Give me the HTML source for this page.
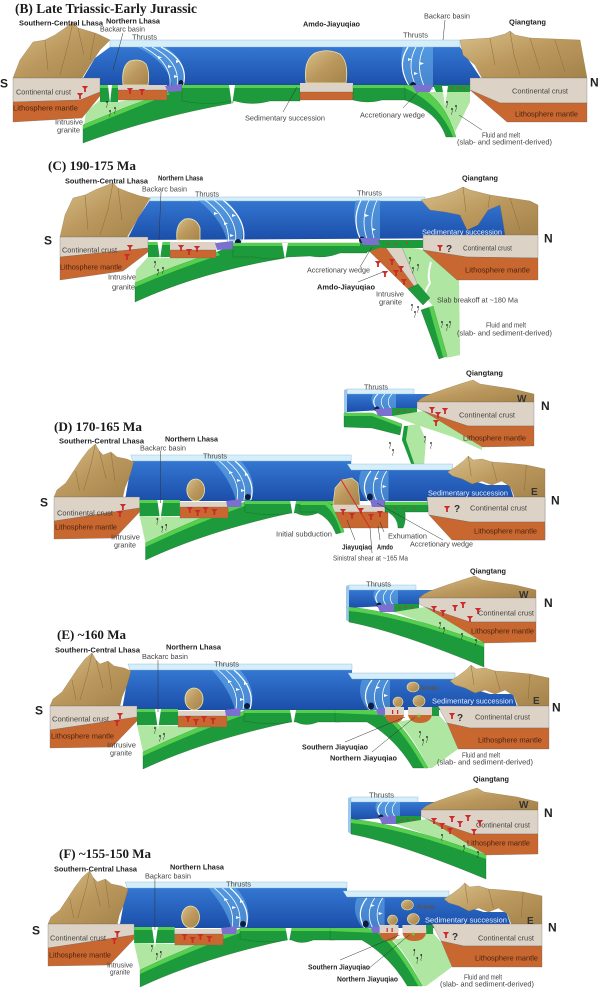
<!DOCTYPE html>
<html><head><meta charset="utf-8"><style>
html,body{margin:0;padding:0;background:#fff;}
svg{display:block;}
.t{font-family:"Liberation Serif",serif;font-weight:bold;fill:#1a1a1a;}
.b{font-family:"Liberation Sans",sans-serif;font-weight:bold;fill:#222;font-size:7px;}
.n{font-family:"Liberation Sans",sans-serif;fill:#444;font-size:7px;}
.m{font-family:"Liberation Sans",sans-serif;fill:#4a2412;font-size:7px;}
.w{font-family:"Liberation Sans",sans-serif;fill:#e6f0ff;font-size:7.5px;}
.sn{font-family:"Liberation Sans",sans-serif;font-weight:bold;fill:#222;font-size:12px;}
.q{font-family:"Liberation Sans",sans-serif;font-weight:bold;fill:#333;font-size:10px;}
.a{font-family:"Liberation Sans",sans-serif;fill:#6b4a2a;font-size:6px;}
</style></head><body>
<svg width="600" height="990" viewBox="0 0 600 990" xmlns="http://www.w3.org/2000/svg">
<defs>
<linearGradient id="bl" x1="0" y1="0" x2="0" y2="1"><stop offset="0" stop-color="#3477d2"/><stop offset="1" stop-color="#1b4ea9"/></linearGradient>
<linearGradient id="tr" x1="0" y1="0" x2="1" y2="1"><stop offset="0" stop-color="#d8c08a"/><stop offset=".5" stop-color="#bb985d"/><stop offset="1" stop-color="#a3834b"/></linearGradient>
<g id="g"><path d="M-3.2,0 L3.2,0 L0.9,2.6 L0.9,6 L-0.9,6 L-0.9,2.6 Z" fill="#cc2b2b"/></g>
<g id="f"><circle r="0.9" fill="#111"/><path d="M0,1 q1,1.2 0,2.4 q-1,1.2 0,2.4" stroke="#222" stroke-width=".45" fill="none"/></g>

<g id="M">
 <path d="M122,710 L127,682 L130,670 L352,670 L352,679 L455,679 L470,688 L490,694 L513,694 L518,710 Z" fill="url(#bl)"/>
 <path d="M128,664 L352,664 L352,670 L130,670 Z" fill="#d5eef9" stroke="#86b4d0" stroke-width=".4"/>
 <path d="M348,673 L455,673 L455,679 L352,679 Z" fill="#d5eef9" stroke="#86b4d0" stroke-width=".4"/>
 <path d="M50,706 L53,699 L62,692 L70,680 L78,668 L85,659 L92,653 L96,660 L100,664 L108,661 L114,666 L124,668 L131,671 L127,685 L122,697 L120,706 Z" fill="url(#tr)" stroke="#8a6a3a" stroke-width=".3"/>
 <path d="M92,653 L88,672 L80,700 M96,660 L103,688 M72,680 L76,700 M108,662 L112,690" stroke="#8c6c3c" stroke-width=".5" fill="none"/>
 <path d="M450,681 L458,676 L466,670 L471,665 L476,669 L485,668 L495,671 L510,672 L530,674 L549,678 L549,706 L518,706 L514,696 L505,690 L495,694 L485,690 L475,693 L465,688 L455,685 Z" fill="url(#tr)" stroke="#8a6a3a" stroke-width=".3"/>
 <path d="M471,665 L474,685 M495,671 L500,690 M530,674 L528,700" stroke="#8c6c3c" stroke-width=".5" fill="none"/>
 <path d="M212,670 L240,670 Q258,690 250,710 L235,710 Q230,690 212,670 Z" fill="#6cb4ec" opacity=".55"/>
 <path d="M218,670 Q240,688 236,709 M226,670 Q248,688 243,709" stroke="#fff" stroke-width=".8" fill="none"/>
 <path d="M234,670 Q256,689 250,709" stroke="#fff" stroke-width="1.2" fill="none"/>
 <path d="M228,680 l4,1.5 l-4,1.5 Z M236,688 l4,1.5 l-4,1.5 Z M244,682 l4,1.5 l-4,1.5 Z M240,698 l4,1.5 l-4,1.5 Z" fill="#fff"/>
 <ellipse cx="247" cy="706" rx="3" ry="3" fill="#0c1c40"/>
 <path d="M362,680 L390,680 L390,710 L368,710 Q356,695 362,680 Z" fill="#6cb4ec" opacity=".5"/>
 <path d="M372,680 Q360,695 370,710" stroke="#fff" stroke-width="1.2" fill="none"/>
 <path d="M380,680 Q370,695 378,710 M388,680 Q378,695 386,710" stroke="#fff" stroke-width=".8" fill="none"/>
 <path d="M376,686 l4,1.5 l-4,1.5 Z M384,694 l4,1.5 l-4,1.5 Z" fill="#fff"/>
 <ellipse cx="371" cy="706" rx="3" ry="3.5" fill="#0c1c40"/>
 <ellipse cx="194" cy="699" rx="9" ry="11" fill="url(#tr)" stroke="#efe6a8" stroke-width=".8"/>
 <path d="M137,725 L178,726 L244,714 L143,752 Z" fill="#aee6a2"/>
 <path d="M244,711 Q195,727 143,752 L143,769 Q205,740 295,721 L295,711 Z" fill="#1d9a3b" stroke="#145a24" stroke-width=".3"/>
 <path d="M244,711 Q195,727 143,752 L143,756 Q197,731 247,714 Z" fill="#56cf4f"/>
 <path d="M50,706 L137,706 L137,717 L50,730 Z" fill="#dcd3c6" stroke="#666" stroke-width=".3"/>
 <path d="M50,730 L137,717 L137,721 L112,747 L50,748 Z" fill="#c8672f" stroke="#666" stroke-width=".3"/>
 <path d="M137,709 L178,709 L178,725 L137,725 Z" fill="#1d9a3b"/>
 <rect x="137" y="709" width="41" height="3" fill="#56cf4f"/>
 <path d="M155,709 L158,730 L161,709 Z" fill="#fff"/>
 <path d="M178,711 L227,711 L227,716 L178,716 Z" fill="#dcd3c6"/>
 <path d="M178,716 L227,716 L227,727 L178,727 Z" fill="#c8672f" stroke="#666" stroke-width=".3"/>
 <path d="M225,710 L241,708 L240,716 L226,716 Z" fill="#7b6fcf"/>
 <path d="M244,710 L340,710 L340,722 L318,722 Q306,727 296,722 L292,722 Q270,726 244,721 Z" fill="#1d9a3b" stroke="#145a24" stroke-width=".3"/>
 <rect x="244" y="710" width="96" height="3" fill="#56cf4f"/>
 <path d="M290,710 L293,727 L296,710 Z" fill="#fff"/>
 <path d="M438,706 L549,706 L549,728 L470,728 L447,723 Z" fill="#dcd3c6" stroke="#666" stroke-width=".3"/>
 <path d="M447,723 L470,728 L549,728 L549,749 L458,749 Z" fill="#c8672f" stroke="#666" stroke-width=".3"/>
 <use href="#g" x="120" y="713"/><use href="#g" x="117" y="720"/>
 <use href="#g" x="188" y="716"/><use href="#g" x="196" y="719"/><use href="#g" x="204" y="716"/><use href="#g" x="213" y="718"/>
 <use href="#f" x="155" y="728"/><use href="#f" x="160" y="736"/><use href="#f" x="164" y="734"/>
 <path d="M158,712 L158,660" stroke="#333" stroke-width=".5"/>
</g>

<g id="R">
 <path d="M398,722 L438,714 L447,724 L458,749 L432,768 L428,768 Q414,738 398,722 Z" fill="#aee6a2"/>
 <path d="M335,710 L370,710 L385,712 Q405,725 428,768 L413,768 Q395,738 367,722 L335,722 Z" fill="#1d9a3b" stroke="#145a24" stroke-width=".3"/>
 <path d="M335,710 L370,710 L385,712 Q405,725 428,768 L424,768 Q402,729 383,715 L335,713 Z" fill="#56cf4f"/>
 <path d="M376,709 L392,708 L391,715 L378,715 Z" fill="#7b6fcf"/>
 <path d="M385,707 L404,707 L404,715 L385,715 Z" fill="#dcd3c6"/>
 <path d="M385,715 L404,715 Q402,723 394,723 Q386,723 385,715 Z" fill="#c8672f"/>
 <path d="M408,707 L432,707 L432,715 L408,715 Z" fill="#dcd3c6"/>
 <path d="M408,715 L432,715 Q430,723 420,723 Q410,723 408,715 Z" fill="#c8672f"/>
 <rect x="392" y="710" width="1.2" height="4" fill="#c22"/><rect x="397" y="710" width="1.2" height="4" fill="#c22"/>
 <circle cx="419" cy="716" r="1.5" fill="#6c3"/>
 <ellipse cx="398" cy="702" rx="5" ry="5" fill="url(#tr)" stroke="#efe6a8" stroke-width=".6"/>
 <ellipse cx="419" cy="701" rx="6" ry="5.5" fill="url(#tr)" stroke="#efe6a8" stroke-width=".6"/>
 <rect x="432" y="707" width="7" height="9" fill="#1d9a3b"/>
 <ellipse cx="413" cy="687" rx="6" ry="5" fill="url(#tr)" stroke="#efe6a8" stroke-width=".6"/>
 <use href="#f" x="420" y="732"/><use href="#f" x="423" y="740"/><use href="#f" x="427" y="737"/>
 <path d="M345,742 L405,717 M372,752 L415,717" stroke="#333" stroke-width=".5"/>
</g>

<g id="I">
 <path d="M346,586 L349,585 L349,622 L346,620 Z" fill="#9cc8ec"/>
 <path d="M349,590 L436,590 L440,598 L419,598 L419,604 L349,608 Z" fill="url(#bl)"/>
 <path d="M349,585 L416,585 L416,590 L349,590 Z" fill="#d5eef9" stroke="#86b4d0" stroke-width=".4"/>
 <path d="M430,591 L447,585 L462,580 L475,576 L482,580 L495,582 L515,585 L536,590 L536,598 L419,598 L424,594 Z" fill="url(#tr)" stroke="#8a6a3a" stroke-width=".3"/>
 <path d="M375,590 L398,590 L398,606 L380,606 Q370,598 375,590 Z" fill="#6cb4ec" opacity=".55"/>
 <path d="M380,590 Q371,598 381,607" stroke="#fff" stroke-width="1.1" fill="none"/>
 <path d="M387,590 Q379,598 388,607 M394,590 Q386,598 395,607" stroke="#fff" stroke-width=".7" fill="none"/>
 <ellipse cx="379" cy="605" rx="2.5" ry="2.5" fill="#0c1c40"/>
 <path d="M377,605 L394,604 L394,612 L380,612 Z" fill="#7b6fcf"/>
 <path d="M394,604 L419,604 L419,612 L394,612 Z" fill="#1d9a3b"/>
 <circle cx="400" cy="608" r="1" fill="#c33"/><circle cx="406" cy="607" r="1" fill="#c33"/><circle cx="412" cy="608" r="1" fill="#c33"/>
 <path d="M419,598 L536,598 L536,622 L470,622 L425,607 L419,604 Z" fill="#dcd3c6" stroke="#666" stroke-width=".3"/>
 <path d="M425,607 L470,622 L536,622 L536,642 L484,643 Z" fill="#c8672f" stroke="#666" stroke-width=".3"/>
 <path d="M394,612 L425,607 L484,643 L484,646 L455,633 L422,622 L400,614 Z" fill="#aee6a2"/>
</g>
</defs>

<!-- ================= B ================= -->
<text class="t" x="15" y="13" font-size="14" textLength="182" lengthAdjust="spacingAndGlyphs">(B) Late Triassic-Early Jurassic</text>
<path d="M82,80 L95,58 L110,47 L460,47 L470,62 L482,80 L482,87 L82,87 Z" fill="url(#bl)"/>
<path d="M110,40 L460,40 L460,47 L110,47 Z" fill="#d5eef9" stroke="#86b4d0" stroke-width=".4"/>
<path d="M13,78 L20,60 L33,42 L45,40 L55,35 L65,28 L73,22 L78,28 L85,30 L95,33 L100,35 L110,40 L100,50 L90,65 L82,78 Z" fill="url(#tr)" stroke="#8a6a3a" stroke-width=".3"/>
<path d="M73,22 L68,45 L60,75 M78,28 L84,55 M45,40 L48,70 M95,33 L90,60" stroke="#8c6c3c" stroke-width=".5" fill="none"/>
<path d="M460,40 L490,38 L505,34 L510,31 L515,35 L530,38 L580,40 L587,78 L482,78 L475,65 L463,55 Z" fill="url(#tr)" stroke="#8a6a3a" stroke-width=".3"/>
<path d="M510,31 L514,55 L520,75 M530,38 L540,70 M490,38 L495,65 M555,40 L565,72" stroke="#8c6c3c" stroke-width=".5" fill="none"/>
<path d="M137,47 L165,47 Q190,62 183,86 L172,86 Q168,62 137,47 Z" fill="#6cb4ec" opacity=".55"/>
<path d="M143,47 Q172,62 170,86 M152,47 Q181,62 177,86" stroke="#fff" stroke-width=".8" fill="none"/>
<path d="M161,47 Q190,62 183,86" stroke="#fff" stroke-width="1.2" fill="none"/>
<path d="M158,56 l4,1.5 l-4,1.5 Z M168,65 l4,1.5 l-4,1.5 Z M176,60 l4,1.5 l-4,1.5 Z M174,75 l4,1.5 l-4,1.5 Z" fill="#fff"/>
<ellipse cx="181" cy="83" rx="2.5" ry="3" fill="#0c1c40"/>
<path d="M403,47 L433,47 L433,90 L414,90 Q396,68 403,47 Z" fill="#6cb4ec" opacity=".55"/>
<path d="M408,47 Q395,67 412,90" stroke="#fff" stroke-width="1.2" fill="none"/>
<path d="M416,47 Q405,67 418,90 M424,47 Q414,67 426,90" stroke="#fff" stroke-width=".8" fill="none"/>
<path d="M408,58 l4,1.5 l-4,1.5 Z M414,72 l4,1.5 l-4,1.5 Z M420,62 l4,1.5 l-4,1.5 Z" fill="#fff"/>
<ellipse cx="413" cy="85" rx="3" ry="3" fill="#0c1c40"/>
<path d="M123,85 Q121,66 130,61 Q140,58 146,64 Q150,72 148,85 Z" fill="url(#tr)" stroke="#efe6a8" stroke-width=".8"/>
<path d="M306,83 Q303,60 315,53 Q328,48 340,54 Q349,62 346,83 Z" fill="url(#tr)" stroke="#efe6a8" stroke-width=".8"/>
<!-- B front -->
<path d="M100,100 L118,102 L167,92 L84,126 L86,112 Z" fill="#aee6a2"/>
<path d="M167,92 Q125,107 83,125 L83,143 Q150,118 233,103 L233,86 L182,86 Z" fill="#1d9a3b" stroke="#145a24" stroke-width=".3"/>
<path d="M167,92 Q125,107 83,125 L83,129 Q127,111 170,94 Z" fill="#56cf4f"/>
<path d="M13,78 L100,78 L100,92 L80,100 L13,102 Z" fill="#dcd3c6" stroke="#666" stroke-width=".3"/>
<path d="M13,102 L80,100 L100,92 L100,96 L82,118 L13,122 Z" fill="#c8672f" stroke="#666" stroke-width=".3"/>
<path d="M100,85 L118,85 L118,102 L100,102 Z" fill="#1d9a3b"/>
<rect x="100" y="85" width="18" height="3" fill="#56cf4f"/>
<path d="M108,85 L110,104 L112,85 Z" fill="#fff"/>
<path d="M118,85 L167,85 L167,90 L118,90 Z" fill="#dcd3c6"/>
<path d="M118,90 L167,90 L167,100 L118,100 Z" fill="#c8672f" stroke="#666" stroke-width=".3"/>
<path d="M165,86 L182,84 L182,91 L168,92 Z" fill="#7b6fcf"/>
<path d="M182,85 L300,85 L300,101 L270,101 Q252,106 235,101 L232,101 Q210,106 182,101 Z" fill="#1d9a3b" stroke="#145a24" stroke-width=".3"/>
<rect x="182" y="85" width="118" height="3" fill="#56cf4f"/>
<path d="M229,85 L232,106 L235,85 Z" fill="#fff"/>
<path d="M300,83 L353,83 L353,92 L300,92 Z" fill="#dcd3c6"/>
<path d="M300,92 L353,92 L353,100 L300,100 Z" fill="#c8672f" stroke="#666" stroke-width=".3"/>
<path d="M353,85 L410,85 L410,100 L382,100 Q368,104 353,100 Z" fill="#1d9a3b" stroke="#145a24" stroke-width=".3"/>
<rect x="353" y="85" width="57" height="3" fill="#56cf4f"/>
<path d="M425,92 L470,92 L470,102 L455,132 Q447,108 425,92 Z" fill="#aee6a2"/>
<path d="M405,85 L418,86 Q445,100 456,137 L446,137 Q438,112 405,100 Z" fill="#1d9a3b" stroke="#145a24" stroke-width=".3"/>
<path d="M405,85 L418,86 Q445,100 456,137 L453,137 Q440,104 405,88 Z" fill="#56cf4f"/>
<path d="M412,85 L433,85 L430,92 L416,92 Z" fill="#7b6fcf"/>
<path d="M433,85 L470,85 L470,92 L436,92 Z" fill="#1d9a3b"/>
<path d="M442,86 L445,106 L448,86 Z" fill="#fff"/>
<circle cx="452" cy="88" r="1" fill="#c33"/><circle cx="458" cy="88" r="1" fill="#c33"/><circle cx="464" cy="88" r="1" fill="#c33"/>
<path d="M470,78 L587,78 L587,103 L500,103 L470,90 Z" fill="#dcd3c6" stroke="#666" stroke-width=".3"/>
<path d="M470,90 L500,103 L587,103 L587,122 L507,122 Z" fill="#c8672f" stroke="#666" stroke-width=".3"/>
<use href="#g" x="85" y="86"/><use href="#g" x="80" y="93"/><use href="#g" x="130" y="88"/><use href="#g" x="142" y="89"/>
<use href="#f" x="107" y="102"/><use href="#f" x="110" y="111"/><use href="#f" x="115" y="108"/>
<use href="#f" x="447" y="102"/><use href="#f" x="452" y="109"/><use href="#f" x="456" y="106"/>
<path d="M123,33 L113,70 M445,20 L443,40 M283,112 L297,87 M403,108 L418,92 M482,130 L459,115" stroke="#333" stroke-width=".5" fill="none"/>
<text class="b" x="19" y="25.5" textLength="84" lengthAdjust="spacingAndGlyphs">Southern-Central Lhasa</text>
<text class="b" x="106" y="23.5" textLength="54" lengthAdjust="spacingAndGlyphs">Northern Lhasa</text>
<text class="b" x="303" y="26.5" textLength="57" lengthAdjust="spacingAndGlyphs">Amdo-Jiayuqiao</text>
<text class="b" x="509" y="24.5" textLength="37" lengthAdjust="spacingAndGlyphs">Qiangtang</text>
<text class="n" x="100" y="31.5" textLength="45" lengthAdjust="spacingAndGlyphs">Backarc basin</text>
<text class="n" x="132" y="39.5" textLength="25" lengthAdjust="spacingAndGlyphs">Thrusts</text>
<text class="n" x="424" y="18.5" textLength="46" lengthAdjust="spacingAndGlyphs">Backarc basin</text>
<text class="n" x="403" y="37.5" textLength="25" lengthAdjust="spacingAndGlyphs">Thrusts</text>
<text class="sn" x="0" y="87.5">S</text>
<text class="sn" x="590" y="86.5">N</text>
<text class="n" x="16" y="94.5" textLength="55" lengthAdjust="spacingAndGlyphs">Continental crust</text>
<text class="n" x="512" y="93.5" textLength="56" lengthAdjust="spacingAndGlyphs">Continental crust</text>
<text class="m" x="13" y="110.5" textLength="65" lengthAdjust="spacingAndGlyphs">Lithosphere mantle</text>
<text class="m" x="515" y="116.5" textLength="63" lengthAdjust="spacingAndGlyphs">Lithosphere mantle</text>
<text class="n" x="55" y="124.5" textLength="28" lengthAdjust="spacingAndGlyphs">Intrusive</text>
<text class="n" x="57" y="132.5" textLength="23" lengthAdjust="spacingAndGlyphs">granite</text>
<text class="n" x="245" y="120.5" textLength="80" lengthAdjust="spacingAndGlyphs">Sedimentary succession</text>
<text class="n" x="360" y="117.5" textLength="65" lengthAdjust="spacingAndGlyphs">Accretionary wedge</text>
<text class="n" x="482" y="137.5" textLength="38" lengthAdjust="spacingAndGlyphs">Fluid and melt</text>
<text class="n" x="457" y="144.5" textLength="95" lengthAdjust="spacingAndGlyphs">(slab- and sediment-derived)</text>

<!-- ================= C ================= -->
<text class="t" x="48" y="170" font-size="13" textLength="88" lengthAdjust="spacingAndGlyphs">(C) 190-175 Ma</text>
<path d="M127,240 L138,218 L150,200 L425,200 L440,205 L505,205 L505,238 Z" fill="url(#bl)"/>
<path d="M150,197 L425,197 L425,201 L150,201 Z" fill="#d5eef9" stroke="#86b4d0" stroke-width=".4"/>
<path d="M60,237 L65,215 L73,198 L85,195 L95,190 L105,186 L113,183 L118,188 L128,192 L140,196 L150,198 L138,218 L127,237 Z" fill="url(#tr)" stroke="#8a6a3a" stroke-width=".3"/>
<path d="M113,183 L108,210 L100,235 M118,188 L122,220 M85,195 L88,230" stroke="#8c6c3c" stroke-width=".5" fill="none"/>
<path d="M421,200 L440,196 L455,191 L463,187 L470,190 L490,195 L510,198 L530,201 L538,205 L538,235 L505,235 L503,222 L500,205 L488,210 L478,225 L467,230 L460,215 L445,212 L430,210 Z" fill="url(#tr)" stroke="#8a6a3a" stroke-width=".3"/>
<path d="M463,187 L466,212 M510,198 L520,230 M490,195 L488,208" stroke="#8c6c3c" stroke-width=".5" fill="none"/>
<path d="M198,200 L225,200 Q250,222 240,246 L228,246 Q225,222 198,200 Z" fill="#6cb4ec" opacity=".55"/>
<path d="M205,200 Q232,220 228,246 M214,200 Q240,220 235,246" stroke="#fff" stroke-width=".8" fill="none"/>
<path d="M223,200 Q250,222 242,246" stroke="#fff" stroke-width="1.2" fill="none"/>
<path d="M214,212 l4,1.5 l-4,1.5 Z M224,222 l4,1.5 l-4,1.5 Z M232,214 l4,1.5 l-4,1.5 Z M230,234 l4,1.5 l-4,1.5 Z" fill="#fff"/>
<ellipse cx="238" cy="242" rx="3" ry="3" fill="#0c1c40"/>
<path d="M356,200 L380,200 L380,244 L364,244 Q350,222 356,200 Z" fill="#6cb4ec" opacity=".5"/>
<path d="M361,200 Q350,222 363,244" stroke="#fff" stroke-width="1.2" fill="none"/>
<path d="M369,200 Q359,222 369,244 M377,200 Q367,222 376,244" stroke="#fff" stroke-width=".8" fill="none"/>
<path d="M365,214 l4,1.5 l-4,1.5 Z M372,228 l4,1.5 l-4,1.5 Z" fill="#fff"/>
<ellipse cx="362" cy="240" rx="3" ry="3.5" fill="#0c1c40"/>
<path d="M177,240 Q175,224 185,219 Q196,217 200,228 L200,240 Z" fill="url(#tr)" stroke="#efe6a8" stroke-width=".8"/>
<!-- C front -->
<path d="M148,257 L170,258 L217,253 L135,283 L136,270 Z" fill="#aee6a2"/>
<path d="M217,252 Q175,265 135,283 L135,302 Q200,272 285,258 L285,245 L233,245 Z" fill="#1d9a3b" stroke="#145a24" stroke-width=".3"/>
<path d="M217,252 Q175,265 135,283 L135,287 Q177,269 220,255 Z" fill="#56cf4f"/>
<path d="M60,237 L148,237 L148,248 L60,257 Z" fill="#dcd3c6" stroke="#666" stroke-width=".3"/>
<path d="M60,257 L148,248 L148,252 L123,271 L60,280 Z" fill="#c8672f" stroke="#666" stroke-width=".3"/>
<path d="M148,242 L170,242 L170,257 L148,257 Z" fill="#1d9a3b"/>
<rect x="148" y="242" width="22" height="3" fill="#56cf4f"/>
<path d="M157.5,242 L160,260 L162.5,242 Z" fill="#fff"/>
<path d="M170,242 L216,242 L216,250 L170,250 Z" fill="#dcd3c6"/>
<path d="M170,250 L216,250 L216,258 L170,258 Z" fill="#c8672f" stroke="#666" stroke-width=".3"/>
<path d="M215,243 L233,241 L233,249 L217,250 Z" fill="#7b6fcf"/>
<path d="M233,243 L367,243 L367,253 L340,253 Q325,259 310,256 L288,257 Q270,261 255,257 L233,257 Z" fill="#1d9a3b" stroke="#145a24" stroke-width=".3"/>
<rect x="233" y="243" width="134" height="3" fill="#56cf4f"/>
<path d="M282,243 L285,260 L288,243 Z" fill="#fff"/>
<path d="M400,245 L423,250 L459,280 L460,355 L446,358 L433,306 L428,300 L419,288 Z" fill="#aee6a2"/>
<path d="M431,262 Q427,276 430,283 Q424,292 425,298 L419,307" stroke="#fff" stroke-width="2" fill="none"/>
<path d="M399,241 L401,252 L403,241 Z" fill="#fff"/>
<path d="M368,250 L384,245 L414,286 L410,291 Z" fill="#c8672f" stroke="#666" stroke-width=".3"/>
<path d="M384,245 L401,245 L419,288 L414,286 Z" fill="#dcd3c6" stroke="#666" stroke-width=".3"/>
<path d="M360,243 L380,244 L384,246 L368,252 L360,252 Z" fill="#1d9a3b"/>
<path d="M408,289 L418,284 L430,298 L423,305 Z" fill="#1d9a3b" stroke="#145a24" stroke-width=".3"/>
<path d="M421,310 L433,306 L447,356 L439,359 Z" fill="#1d9a3b" stroke="#145a24" stroke-width=".3"/>
<path d="M429,307 L433,306 L447,356 L443,357 Z" fill="#56cf4f"/>
<path d="M360,238 L380,238 L380,245 L363,245 Z" fill="#7b6fcf"/>
<path d="M378,240 L423,240 L423,248 L381,248 Z" fill="#1d9a3b"/>
<circle cx="388" cy="244" r="1" fill="#c33"/><circle cx="396" cy="244" r="1" fill="#c33"/><circle cx="407" cy="243" r="1" fill="#c33"/>
<path d="M423,235 L538,235 L538,258 L467,257 L423,250 Z" fill="#dcd3c6" stroke="#666" stroke-width=".3"/>
<path d="M423,250 L467,257 L538,258 L538,280 L457,280 Z" fill="#c8672f" stroke="#666" stroke-width=".3"/>
<use href="#g" x="130" y="245"/><use href="#g" x="127" y="254"/>
<use href="#g" x="181" y="245"/><use href="#g" x="189" y="249"/><use href="#g" x="197" y="246"/>
<use href="#g" x="378" y="261"/><use href="#g" x="385" y="271"/><use href="#g" x="392" y="259"/><use href="#g" x="396" y="270"/><use href="#g" x="401" y="266"/><use href="#g" x="404" y="279"/>
<use href="#g" x="440" y="245"/>
<use href="#f" x="155" y="262"/><use href="#f" x="158" y="270"/><use href="#f" x="163" y="268"/>
<use href="#f" x="410" y="258"/><use href="#f" x="413" y="268"/><use href="#f" x="418" y="265"/>
<use href="#f" x="412" y="305"/><use href="#f" x="415" y="312"/><use href="#f" x="418" y="307"/>
<use href="#f" x="442" y="322"/><use href="#f" x="447" y="325"/><use href="#f" x="450" y="322"/>
<path d="M161,192 L159,240 M360,267 L372,247 M358,282 L383,272" stroke="#333" stroke-width=".5" fill="none"/>
<text class="b" x="65" y="183.5" textLength="83" lengthAdjust="spacingAndGlyphs">Southern-Central Lhasa</text>
<text class="b" x="158" y="180.5" font-size="6.2" textLength="45" lengthAdjust="spacingAndGlyphs">Northern Lhasa</text>
<text class="b" x="462" y="180.5" textLength="36" lengthAdjust="spacingAndGlyphs">Qiangtang</text>
<text class="n" x="142" y="191.5" textLength="45" lengthAdjust="spacingAndGlyphs">Backarc basin</text>
<text class="n" x="195" y="196.5" textLength="24" lengthAdjust="spacingAndGlyphs">Thrusts</text>
<text class="n" x="357" y="195.5" textLength="25" lengthAdjust="spacingAndGlyphs">Thrusts</text>
<text class="sn" x="44" y="244.5">S</text>
<text class="sn" x="544" y="242.5">N</text>
<text class="w" x="422" y="234.5" textLength="80" lengthAdjust="spacingAndGlyphs">Sedimentary succession</text>
<text class="n" x="62" y="252.5" textLength="55" lengthAdjust="spacingAndGlyphs">Continental crust</text>
<text class="n" x="463" y="250.5" font-size="6.3" textLength="49" lengthAdjust="spacingAndGlyphs">Continental crust</text>
<text class="m" x="60" y="269.5" textLength="62" lengthAdjust="spacingAndGlyphs">Lithosphere mantle</text>
<text class="m" x="465" y="272.5" textLength="65" lengthAdjust="spacingAndGlyphs">Lithosphere mantle</text>
<text class="n" x="108" y="279.5" textLength="28" lengthAdjust="spacingAndGlyphs">Intrusive</text>
<text class="n" x="112" y="289.5" textLength="23" lengthAdjust="spacingAndGlyphs">granite</text>
<text class="n" x="307" y="272.5" textLength="63" lengthAdjust="spacingAndGlyphs">Accretionary wedge</text>
<text class="b" x="317" y="289.5" textLength="58" lengthAdjust="spacingAndGlyphs">Amdo-Jiayuqiao</text>
<text class="n" x="376" y="296.5" textLength="28" lengthAdjust="spacingAndGlyphs">Intrusive</text>
<text class="n" x="379" y="304.5" textLength="23" lengthAdjust="spacingAndGlyphs">granite</text>
<text class="n" x="437" y="302.5" textLength="81" lengthAdjust="spacingAndGlyphs">Slab breakoff at ~180 Ma</text>
<text class="q" x="446" y="252" font-size="9">?</text>
<text class="n" x="486" y="327.5" textLength="40" lengthAdjust="spacingAndGlyphs">Fluid and melt</text>
<text class="n" x="457" y="335.5" textLength="95" lengthAdjust="spacingAndGlyphs">(slab- and sediment-derived)</text>

<!-- ================= D ================= -->
<use href="#I" transform="translate(-2,-196)"/>
<path d="M344,413 L372,413 L402,424 L400,435 L372,428 L344,427 Z" fill="#1d9a3b" stroke="#145a24" stroke-width=".3"/>
<path d="M344,413 L372,413 L402,424 L401,427 L372,416 L344,416 Z" fill="#56cf4f"/>
<path d="M404,426 L419,424 L426,440 L424,466 L412,466 L402,440 Z" fill="#aee6a2"/>
<path d="M402,440 L404,426 L408,426 L406,440 L415,466 L412,466 Z" fill="#1d9a3b"/>
<use href="#g" x="432" y="407"/><use href="#g" x="438" y="412"/><use href="#g" x="445" y="408"/><use href="#g" x="436" y="420"/>
<use href="#f" x="390" y="443"/><use href="#f" x="393" y="450"/><use href="#f" x="425" y="437"/><use href="#f" x="431" y="443"/>
<text class="b" x="466" y="375.5" textLength="37" lengthAdjust="spacingAndGlyphs">Qiangtang</text>
<text class="n" x="364" y="389.5" textLength="24" lengthAdjust="spacingAndGlyphs">Thrusts</text>
<text class="q" x="517" y="402" font-size="11">W</text>
<text class="sn" x="541" y="410">N</text>
<text class="n" x="459" y="417.5" textLength="56" lengthAdjust="spacingAndGlyphs">Continental crust</text>
<text class="m" x="463" y="440.5" textLength="63" lengthAdjust="spacingAndGlyphs">Lithosphere mantle</text>

<use href="#M" transform="matrix(0.984,0,0,1,4.8,-209)"/>
<path d="M333,505 L335,488 L342,480 L352,478 L358,483 L360,505 Z" fill="url(#tr)" stroke="#efe6a8" stroke-width=".6"/>
<path d="M300,502 L328,502 Q340,512 344,532 L336,534 Q330,518 316,512 L300,512 Z" fill="#1d9a3b" stroke="#145a24" stroke-width=".3"/>
<path d="M300,502 L328,502 Q340,512 344,532 L341,533 Q336,514 325,505 L300,505 Z" fill="#56cf4f"/>
<path d="M332,505 L388,505 L388,512 L335,512 Z" fill="#dcd3c6"/>
<path d="M335,512 L388,512 L388,528 L342,528 Z" fill="#c8672f" stroke="#666" stroke-width=".3"/>
<path d="M370,500 L385,500 L385,507 L372,507 Z" fill="#7b6fcf"/>
<path d="M385,502 L428,502 L428,512 L405,512 Q406,522 403,528 L398,528 Q398,518 388,512 L385,512 Z" fill="#1d9a3b" stroke="#145a24" stroke-width=".3"/>
<rect x="385" y="502" width="43" height="3" fill="#56cf4f"/>
<circle cx="395" cy="508" r="1" fill="#c33"/><circle cx="404" cy="508" r="1" fill="#c33"/><circle cx="414" cy="508" r="1" fill="#c33"/>
<path d="M427,497 L545,497 L545,522 L470,522 L429,515 Z" fill="#dcd3c6" stroke="#666" stroke-width=".3"/>
<path d="M429,515 L470,522 L545,522 L545,540 L452,540 Z" fill="#c8672f" stroke="#666" stroke-width=".3"/>
<use href="#g" x="343" y="509"/><use href="#g" x="352" y="513"/><use href="#g" x="361" y="508"/><use href="#g" x="371" y="514"/><use href="#g" x="380" y="511"/>
<use href="#g" x="447" y="506"/>
<path d="M340,478 L370,528" stroke="#d62a2a" stroke-width="1"/>
<path d="M370,528 L372,553 M347,520 L355,540 M378,526 L380,540 M380,522 L384,532 M377,503 L443,540" stroke="#333" stroke-width=".5" fill="none"/>
<text class="t" x="54" y="431" font-size="13" textLength="88" lengthAdjust="spacingAndGlyphs">(D) 170-165 Ma</text>
<text class="b" x="59" y="443.5" textLength="85" lengthAdjust="spacingAndGlyphs">Southern-Central Lhasa</text>
<text class="b" x="165" y="441.5" textLength="53" lengthAdjust="spacingAndGlyphs">Northern Lhasa</text>
<text class="n" x="140" y="450.5" textLength="46" lengthAdjust="spacingAndGlyphs">Backarc basin</text>
<text class="n" x="203" y="458.5" textLength="24" lengthAdjust="spacingAndGlyphs">Thrusts</text>
<text class="sn" x="40" y="506.5">S</text>
<text class="sn" x="551" y="504.5">N</text>
<text class="w" x="428" y="495.5" textLength="80" lengthAdjust="spacingAndGlyphs">Sedimentary succession</text>
<text class="q" x="531" y="495" font-size="11">E</text>
<text class="n" x="57" y="515.5" textLength="56" lengthAdjust="spacingAndGlyphs">Continental crust</text>
<text class="n" x="470" y="510.5" textLength="57" lengthAdjust="spacingAndGlyphs">Continental crust</text>
<text class="m" x="55" y="529.5" textLength="62" lengthAdjust="spacingAndGlyphs">Lithosphere mantle</text>
<text class="m" x="474" y="533.5" textLength="63" lengthAdjust="spacingAndGlyphs">Lithosphere mantle</text>
<text class="n" x="111" y="539.5" textLength="29" lengthAdjust="spacingAndGlyphs">Intrusive</text>
<text class="n" x="114" y="547.5" textLength="22" lengthAdjust="spacingAndGlyphs">granite</text>
<text class="n" x="276" y="536.5" textLength="56" lengthAdjust="spacingAndGlyphs">Initial subduction</text>
<text class="b" x="342" y="549.5" textLength="30" lengthAdjust="spacingAndGlyphs">Jiayuqiao</text>
<text class="b" x="377" y="549.5" textLength="16" lengthAdjust="spacingAndGlyphs">Amdo</text>
<text class="n" x="388" y="538.5" textLength="39" lengthAdjust="spacingAndGlyphs">Exhumation</text>
<text class="n" x="410" y="546.5" textLength="63" lengthAdjust="spacingAndGlyphs">Accretionary wedge</text>
<text class="n" x="333" y="560.5" textLength="75" lengthAdjust="spacingAndGlyphs">Sinistral shear at ~165 Ma</text>
<text class="q" x="454" y="512" font-size="9">?</text>

<!-- ================= E ================= -->
<use href="#I"/>
<path d="M349,607 Q400,612 484,643 L484,667 Q400,632 349,622 Z" fill="#1d9a3b" stroke="#145a24" stroke-width=".3"/>
<path d="M349,607 Q400,612 484,643 L484,647 Q400,616 349,611 Z" fill="#56cf4f"/>
<use href="#g" x="434" y="606"/><use href="#g" x="443" y="610"/><use href="#g" x="455" y="605"/><use href="#g" x="463" y="602"/><use href="#g" x="478" y="608"/><use href="#g" x="470" y="616"/>
<use href="#f" x="440" y="623"/><use href="#f" x="444" y="628"/><use href="#f" x="462" y="634"/><use href="#f" x="476" y="640"/>
<text class="b" x="470" y="573.5" textLength="36" lengthAdjust="spacingAndGlyphs">Qiangtang</text>
<text class="n" x="366" y="586.5" textLength="25" lengthAdjust="spacingAndGlyphs">Thrusts</text>
<text class="q" x="519" y="598" font-size="11">W</text>
<text class="sn" x="544" y="607">N</text>
<text class="n" x="478" y="615.5" textLength="56" lengthAdjust="spacingAndGlyphs">Continental crust</text>
<text class="m" x="471" y="633.5" textLength="63" lengthAdjust="spacingAndGlyphs">Lithosphere mantle</text>

<use href="#M"/>
<use href="#R"/>
<use href="#g" x="452" y="713"/>
<text class="t" x="57" y="639" font-size="13" textLength="69" lengthAdjust="spacingAndGlyphs">(E) ~160 Ma</text>
<text class="b" x="55" y="652.5" textLength="85" lengthAdjust="spacingAndGlyphs">Southern-Central Lhasa</text>
<text class="b" x="166" y="649.5" textLength="55" lengthAdjust="spacingAndGlyphs">Northern Lhasa</text>
<text class="n" x="142" y="659" textLength="46" lengthAdjust="spacingAndGlyphs">Backarc basin</text>
<text class="n" x="214" y="666.5" textLength="25" lengthAdjust="spacingAndGlyphs">Thrusts</text>
<text class="a" x="420" y="690" textLength="18" lengthAdjust="spacingAndGlyphs">Amdo</text>
<text class="w" x="432" y="703.5" textLength="81" lengthAdjust="spacingAndGlyphs">Sedimentary succession</text>
<text class="q" x="533" y="704" font-size="11">E</text>
<text class="sn" x="35" y="714.5">S</text>
<text class="sn" x="552" y="711.5">N</text>
<text class="n" x="52" y="721.5" textLength="57" lengthAdjust="spacingAndGlyphs">Continental crust</text>
<text class="n" x="475" y="719.5" textLength="55" lengthAdjust="spacingAndGlyphs">Continental crust</text>
<text class="m" x="51" y="738.5" textLength="63" lengthAdjust="spacingAndGlyphs">Lithosphere mantle</text>
<text class="m" x="478" y="742.5" textLength="64" lengthAdjust="spacingAndGlyphs">Lithosphere mantle</text>
<text class="n" x="107" y="747.5" textLength="29" lengthAdjust="spacingAndGlyphs">Intrusive</text>
<text class="n" x="110" y="755.5" textLength="22" lengthAdjust="spacingAndGlyphs">granite</text>
<text class="b" x="302" y="749.5" textLength="66" lengthAdjust="spacingAndGlyphs">Southern Jiayuqiao</text>
<text class="b" x="330" y="760.5" textLength="67" lengthAdjust="spacingAndGlyphs">Northern Jiayuqiao</text>
<text class="n" x="462" y="757.5" textLength="38" lengthAdjust="spacingAndGlyphs">Fluid and melt</text>
<text class="n" x="437" y="764.5" textLength="96" lengthAdjust="spacingAndGlyphs">(slab- and sediment-derived)</text>
<text class="q" x="457" y="721" font-size="9">?</text>

<!-- ================= F ================= -->
<use href="#I" transform="translate(2,212)"/>
<g transform="translate(2,212)">
<path d="M349,607 Q400,612 484,643 L484,667 Q400,632 349,622 Z" fill="#1d9a3b" stroke="#145a24" stroke-width=".3"/>
<path d="M349,607 Q400,612 484,643 L484,647 Q400,616 349,611 Z" fill="#56cf4f"/>
<use href="#g" x="432" y="606"/><use href="#g" x="440" y="611"/><use href="#g" x="450" y="604"/><use href="#g" x="458" y="609"/><use href="#g" x="466" y="603"/><use href="#g" x="478" y="608"/><use href="#g" x="448" y="616"/><use href="#g" x="472" y="617"/>
<use href="#f" x="440" y="623"/><use href="#f" x="462" y="634"/><use href="#f" x="476" y="640"/>
</g>
<text class="b" x="473" y="781.5" textLength="36" lengthAdjust="spacingAndGlyphs">Qiangtang</text>
<text class="n" x="369" y="797.5" textLength="25" lengthAdjust="spacingAndGlyphs">Thrusts</text>
<text class="q" x="519" y="808" font-size="11">W</text>
<text class="sn" x="544" y="817">N</text>
<text class="n" x="476" y="827.5" textLength="54" lengthAdjust="spacingAndGlyphs">Continental crust</text>
<text class="m" x="467" y="845.5" textLength="63" lengthAdjust="spacingAndGlyphs">Lithosphere mantle</text>

<use href="#M" transform="matrix(0.99,0,0,1,-1.5,218)"/>
<use href="#R" transform="matrix(0.99,0,0,1,-1.5,218)"/>
<use href="#g" x="446" y="932"/>
<text class="t" x="59" y="858" font-size="13" textLength="92" lengthAdjust="spacingAndGlyphs">(F) ~155-150 Ma</text>
<text class="b" x="54" y="871.5" textLength="83" lengthAdjust="spacingAndGlyphs">Southern-Central Lhasa</text>
<text class="b" x="170" y="869.5" textLength="54" lengthAdjust="spacingAndGlyphs">Northern Lhasa</text>
<text class="n" x="145" y="878.5" textLength="46" lengthAdjust="spacingAndGlyphs">Backarc basin</text>
<text class="n" x="226" y="886.5" textLength="25" lengthAdjust="spacingAndGlyphs">Thrusts</text>
<text class="a" x="417" y="909" textLength="18" lengthAdjust="spacingAndGlyphs">Amdo</text>
<text class="w" x="425" y="922.5" textLength="82" lengthAdjust="spacingAndGlyphs">Sedimentary succession</text>
<text class="q" x="527" y="924" font-size="11">E</text>
<text class="sn" x="32" y="934.5">S</text>
<text class="sn" x="548" y="931.5">N</text>
<text class="n" x="50" y="940.5" textLength="56" lengthAdjust="spacingAndGlyphs">Continental crust</text>
<text class="n" x="478" y="940.5" textLength="56" lengthAdjust="spacingAndGlyphs">Continental crust</text>
<text class="m" x="49" y="957.5" textLength="62" lengthAdjust="spacingAndGlyphs">Lithosphere mantle</text>
<text class="m" x="475" y="960.5" textLength="63" lengthAdjust="spacingAndGlyphs">Lithosphere mantle</text>
<text class="n" x="107" y="967.5" textLength="26" lengthAdjust="spacingAndGlyphs">Intrusive</text>
<text class="n" x="110" y="974.5" textLength="20" lengthAdjust="spacingAndGlyphs">granite</text>
<text class="b" x="308" y="969.5" textLength="62" lengthAdjust="spacingAndGlyphs">Southern Jiayuqiao</text>
<text class="b" x="337" y="981.5" textLength="61" lengthAdjust="spacingAndGlyphs">Northern Jiayuqiao</text>
<text class="n" x="464" y="979.5" textLength="38" lengthAdjust="spacingAndGlyphs">Fluid and melt</text>
<text class="n" x="440" y="986.5" textLength="94" lengthAdjust="spacingAndGlyphs">(slab- and sediment-derived)</text>
<text class="q" x="452" y="940" font-size="9">?</text>
</svg>
</body></html>
